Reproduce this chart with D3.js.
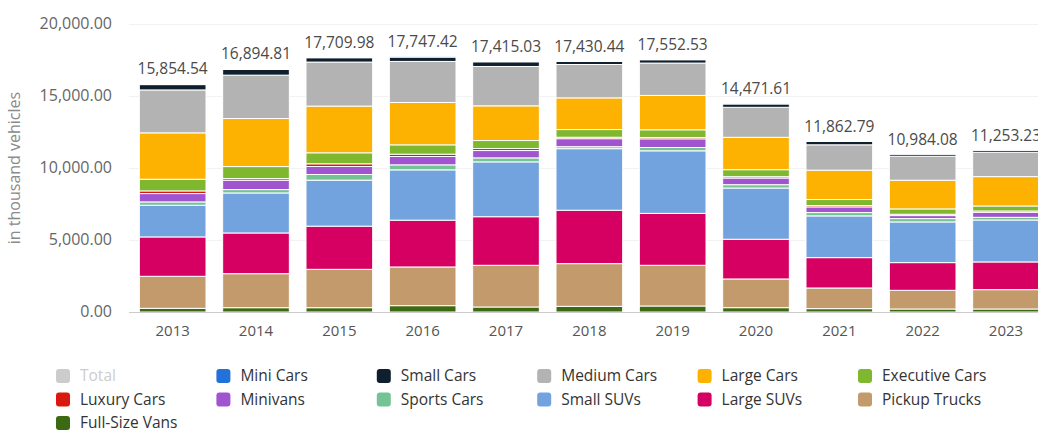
<!DOCTYPE html>
<html>
<head>
<meta charset="utf-8">
<script src="https://cdn.jsdelivr.net/npm/d3@7/dist/d3.min.js"></script>
<style>
  html, body { margin: 0; padding: 0; background: #fff; }
  svg { display: block; font-family: "Open Sans", "DejaVu Sans", sans-serif; }
</style>
</head>
<body>
<svg id="chart" width="1038" height="432"></svg>
<script>
// ---- data (thousand vehicles) ----
const years = ["2013","2014","2015","2016","2017","2018","2019","2020","2021","2022","2023"];
const totals = [15854.54, 16894.81, 17709.98, 17747.42, 17415.03, 17430.44, 17552.53, 14471.61, 11862.79, 10984.08, 11253.23];

const miniCars      = [40, 30, 25, 20, 15, 10, 10, 5, 5, 5, 5];
const smallCars     = [371, 394, 302, 302, 325, 209, 232, 232, 232, 139, 139];
const mediumCars    = [2985, 3016, 3062, 2854, 2738, 2320, 2250, 2088, 1763, 1670, 1694];
const largeCars     = [3225, 3342, 3248, 2946, 2413, 2204, 2390, 2250, 2042, 1995, 2042];
const executiveCars = [812, 835, 766, 650, 557, 534, 534, 487, 418, 371, 348];
const luxuryCars    = [185, 116, 186, 162, 139, 100, 93, 93, 93, 93, 93];
const minivans      = [580, 650, 557, 580, 510, 557, 603, 464, 394, 209, 348];
const sportsCars    = [232, 232, 394, 348, 278, 139, 232, 232, 232, 232, 186];
const smallSUVs     = [2204, 2784, 3200, 3500, 3814, 4281, 4350, 3560, 2903, 2830, 2917];
const largeSUVs     = [2738, 2830, 3000, 3253, 3378, 3712, 3611, 2764, 2111, 1926, 1926];
const pickupTrucks  = [2227, 2366, 2668, 2691, 2900, 2970, 2830, 1995, 1438, 1299, 1346];
const fullSizeVans  = [255, 300, 300, 441, 348, 394, 418, 302, 232, 209, 209];

const seriesNames = ["Mini Cars","Small Cars","Medium Cars","Large Cars","Executive Cars","Luxury Cars",
                     "Minivans","Sports Cars","Small SUVs","Large SUVs","Pickup Trucks","Full-Size Vans"];
const seriesValues = [miniCars, smallCars, mediumCars, largeCars, executiveCars, luxuryCars,
                      minivans, sportsCars, smallSUVs, largeSUVs, pickupTrucks, fullSizeVans];
const seriesColors = ["#2372d9","#0f1f2e","#b3b3b3","#fdb100","#7fb72e","#d9180f",
                      "#a154d0","#74c395","#72a3df","#d50061","#c39a6b","#3c6a12"];
const legendNames = ["Total"].concat(seriesNames);
const legendColors = ["#cccccc"].concat(seriesColors);
const yTicks = [0, 5000, 10000, 15000, 20000];

// ---- layout ----
const svg = d3.select("#chart");
const x = d3.scaleBand().domain(years).range([131, 1047.67]).paddingInner(0.2).paddingOuter(0.1);
const y = d3.scaleLinear().domain([0, 20000]).range([312, 24.4]);
const fmt = d3.format(",.2f");

// gridlines
svg.append("g").selectAll("line").data(yTicks.slice(1)).join("line")
  .attr("x1", 129).attr("x2", 1038)
  .attr("y1", d => Math.round(y(d)) + 0.5).attr("y2", d => Math.round(y(d)) + 0.5)
  .attr("stroke", "#f2f2f2").attr("stroke-width", 1);

// y tick labels
svg.append("g").selectAll("text").data(yTicks).join("text")
  .attr("x", 112).attr("y", d => y(d) - 1).attr("dy", "0.35em")
  .attr("text-anchor", "end").attr("fill", "#666").attr("font-size", "16px")
  .text(d => fmt(d));

// y title
svg.append("text")
  .attr("transform", "translate(20,168) rotate(-90)")
  .attr("text-anchor", "middle").attr("fill", "#8a8a8a").attr("font-size", "16px")
  .text("in thousand vehicles");

// stacked bars: first series on top -> stack in reverse order from bottom
const rows = years.map((yr, i) => {
  const o = { year: yr };
  seriesNames.forEach((n, k) => { o[n] = seriesValues[k][i]; });
  return o;
});
const stackKeys = seriesNames.slice().reverse();
const stacked = d3.stack().keys(stackKeys)(rows);
const colorOf = d3.scaleOrdinal().domain(seriesNames).range(seriesColors);

svg.append("g").selectAll("g").data(stacked).join("g")
  .attr("fill", d => colorOf(d.key))
  .selectAll("rect").data(d => d).join("rect")
  .attr("x", d => x(d.data.year))
  .attr("width", x.bandwidth())
  .attr("y", d => y(d[1]))
  .attr("height", d => Math.max(0, y(d[0]) - y(d[1])))
  .attr("stroke", "#fff").attr("stroke-width", 1);

// x axis line
svg.append("line").attr("x1", 129).attr("x2", 1038)
  .attr("y1", 312.5).attr("y2", 312.5).attr("stroke", "#ccc");

// x labels
svg.append("g").selectAll("text").data(years).join("text")
  .attr("x", d => x(d) + x.bandwidth() / 2).attr("y", 331).attr("dy", "0.35em")
  .attr("text-anchor", "middle").attr("fill", "#555").attr("font-size", "15px")
  .text(d => d);

// total labels
const tops = years.map((yr, i) => d3.max(stacked, s => s[i][1]));
svg.append("g").selectAll("text").data(years).join("text")
  .attr("x", d => x(d) + x.bandwidth() / 2)
  .attr("y", (d, i) => y(tops[i]) - 15).attr("dy", "0.35em")
  .attr("text-anchor", "middle").attr("fill", "#4a4a4a").attr("font-size", "15.5px")
  .text((d, i) => fmt(totals[i]));

// legend
const legend = svg.append("g").selectAll("g").data(legendNames).join("g")
  .attr("transform", (d, i) => `translate(${56 + (i % 6) * 160.4},${376 + Math.floor(i / 6) * 23.5})`);
legend.append("rect").attr("x", 0).attr("y", -7).attr("width", 14).attr("height", 14)
  .attr("rx", 3).attr("fill", (d, i) => legendColors[i]);
legend.append("text").attr("x", 24).attr("y", 0).attr("dy", "0.35em")
  .attr("font-size", "15.5px").attr("fill", (d, i) => i === 0 ? "#cccccc" : "#333")
  .text(d => d);
</script>
</body>
</html>
